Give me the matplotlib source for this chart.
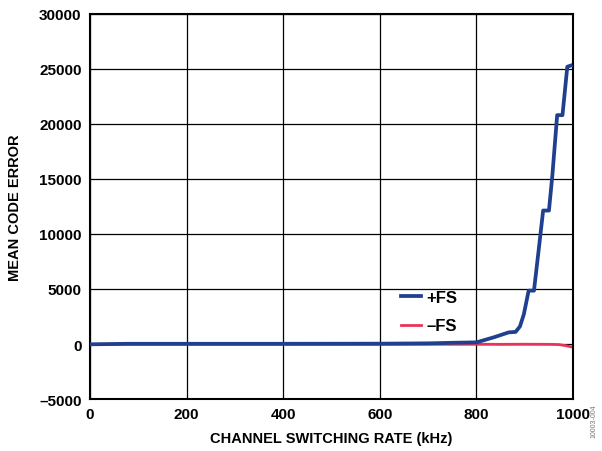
import matplotlib
matplotlib.use('Agg')
import matplotlib.pyplot as plt

plt.rcParams['font.family'] = ['Liberation Sans', 'DejaVu Sans']
plt.rcParams['font.weight'] = 'bold'

# channel switching rate (kHz) and mean code error
rate_pos = [0, 80, 200, 400, 600, 700, 760, 800, 836, 867, 881, 890, 898, 908, 919,
            929, 938, 950, 957, 967, 978, 988, 995]
err_pos = [-30, 20, 20, 20, 30, 60, 120, 150, 610, 1060, 1100, 1600, 2700, 4850, 4850,
           8650, 12130, 12130, 15300, 20800, 20800, 25200, 25300]

rate_neg = [0, 80, 200, 400, 600, 800, 850, 900, 950, 970, 985, 995]
err_neg = [-20, -20, -20, -20, -20, -20, -30, -20, -30, -50, -150, -250]

blue = '#1f3f8f'
red = '#e8345a'

fig = plt.figure(figsize=(6.02, 4.52), dpi=100)
ax = fig.add_axes([0.1495, 0.115, 0.8025, 0.852])

ax.plot(rate_neg, err_neg, color=red, lw=2, label='\u2013FS', zorder=3)
ax.plot(rate_pos, err_pos, color=blue, lw=2.7, label='+FS', zorder=4)

ax.set_xlim(0, 1000)
ax.set_ylim(-5000, 30000)
ax.set_xticks(range(0, 1001, 200))
ax.set_yticks(range(-5000, 30001, 5000))
ax.set_yticklabels(['\u20135000'] + [str(v) for v in range(0, 30001, 5000)])
ax.tick_params(length=0, labelsize=11, pad=6)
ax.grid(True, color='black', lw=0.9)
for s in ax.spines.values():
    s.set_linewidth(1.5)

ax.set_xlabel('CHANNEL SWITCHING RATE (kHz)', fontsize=10.5, fontweight='bold', labelpad=7)
ax.set_ylabel('MEAN CODE ERROR', fontsize=10.5, fontweight='bold', labelpad=12)

handles, labels = ax.get_legend_handles_labels()
leg = ax.legend(handles[::-1], labels[::-1], loc='upper left', bbox_to_anchor=(0.63, 0.30),
                frameon=False, fontsize=12, handlelength=1.2, handletextpad=0.3,
                borderaxespad=0, labelspacing=0.8)

fig.text(0.993, 0.03, '10003-004', rotation=90, fontsize=5, color='#777777',
         fontweight='normal', ha='right', va='bottom')

fig.savefig('out.png', dpi=100)
